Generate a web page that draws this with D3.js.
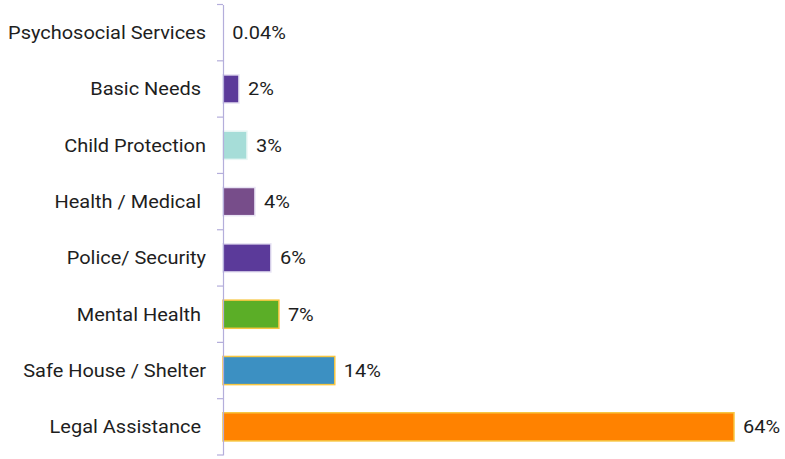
<!DOCTYPE html>
<html>
<head>
<meta charset="utf-8">
<script src="https://cdn.jsdelivr.net/npm/d3@7"></script>
<style>
  html, body { margin: 0; padding: 0; background: #fff; }
  svg text { font-family: Roboto, "Noto Sans", sans-serif; white-space: pre; }
</style>
</head>
<body>
<svg id="chart" width="785" height="459"></svg>
<script>
// Services requested, share of cases (%)
const categories = [
  "Psychosocial Services",
  "Basic Needs ",
  "Child Protection",
  "Health / Medical ",
  "Police/ Security",
  "Mental Health ",
  "Safe House / Shelter",
  "Legal Assistance "
];
const values = [0.04, 2, 3, 4, 6, 7, 14, 64];
const valueLabels = ["0.04%", "2%", "3%", "4%", "6%", "7%", "14%", "64%"];
const fills = ["#5b3a9a", "#5b3a9a", "#a6ddd8", "#774d8a", "#5b3a9a", "#5bae27", "#3c90c2", "#ff8200"];
const strokes = ["#ffffff", "#e8e4f4", "#e8f6f4", "#e8e4f4", "#e8e4f4", "#f7c640", "#f7c640", "#f7c640"];

const svg = d3.select("#chart");
const margin = { left: 223, top: 4.5, right: 51, bottom: 4 };
const W = 785, H = 459;
const textStretch = 1.11; // wide-set lettering

const x = d3.scaleLinear().domain([0, 64]).range([margin.left, W - margin.right]);
const y = d3.scaleBand().domain(categories).range([margin.top, H - margin.bottom]).paddingInner(0.5).paddingOuter(0.25);

const data = categories.map((c, i) => ({ c, v: values[i], label: valueLabels[i], fill: fills[i], stroke: strokes[i] }));

// bars
svg.append("g").selectAll("rect").data(data).join("rect")
  .attr("x", x(0))
  .attr("y", d => y(d.c))
  .attr("width", d => x(d.v) - x(0))
  .attr("height", y.bandwidth())
  .attr("fill", d => d.fill)
  .attr("stroke", d => d.stroke)
  .attr("stroke-width", 1.5);

// category axis
const pad = 17;
const axis = d3.axisLeft(y).tickSize(0).tickPadding(pad);
const gAxis = svg.append("g").attr("transform", `translate(${margin.left},0)`).call(axis);
gAxis.select(".domain").attr("stroke", "#b4aedb").attr("stroke-width", 1.2);
gAxis.selectAll("text")
  .attr("x", 0)
  .attr("transform", `translate(${-pad},0) scale(${textStretch},1)`)
  .attr("font-size", 18).attr("fill", "#1e1e1e").attr("dy", "0.35em");

// band separators
const step = y.step();
const bounds = d3.range(categories.length + 1).map(i => margin.top + i * step);
svg.append("g").selectAll("line").data(bounds).join("line")
  .attr("x1", margin.left - 6).attr("x2", margin.left)
  .attr("y1", d => d).attr("y2", d => d)
  .attr("stroke", "#b4aedb").attr("stroke-width", 1.2);

// value labels
svg.append("g").selectAll("text").data(data).join("text")
  .attr("transform", d => `translate(${x(d.v) + 9},${y(d.c) + y.bandwidth() / 2}) scale(${textStretch},1)`)
  .attr("dy", "0.35em")
  .attr("font-size", 18)
  .attr("fill", "#1e1e1e")
  .text(d => d.label);
</script>
</body>
</html>
